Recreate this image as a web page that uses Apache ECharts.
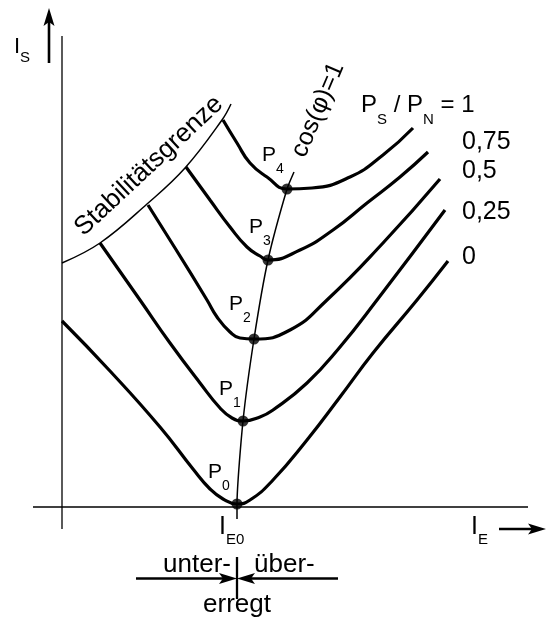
<!DOCTYPE html>
<html>
<head>
<meta charset="utf-8">
<script src="https://cdn.jsdelivr.net/npm/echarts@6/dist/echarts.min.js"></script>
<style>
  html, body { margin: 0; padding: 0; background: #fff; }
  #chart { width: 547px; height: 625px; }
</style>
</head>
<body>
<div id="chart"></div>
<script>
// V-curves of a synchronous machine: stator current I_S over field current I_E,
// one curve per active-power ratio P_S / P_N (arbitrary units, same scale on both axes).

const loadRatios = ['0', '0,25', '0,5', '0,75', '1'];

const curveP0   = [[0, 18.6], [4.8, 13.6], [9.8, 8.0], [13.1, 3.8], [14.8, 1.8], [16.1, 0.8], [17.5, 0.3],
                   [18.8, 0.7], [21.1, 2.7], [24.5, 6.7], [27.8, 11.0], [31.1, 15.4], [35.5, 20.7], [38.6, 24.6]];
const curveP25  = [[3.8, 26.4], [7.8, 20.7], [10.8, 16.4], [13.8, 12.4], [15.8, 9.9], [17.0, 8.9], [18.1, 8.6],
                   [19.8, 9.0], [21.1, 9.7], [24.5, 12.4], [27.8, 16.0], [31.5, 20.7], [38.3, 29.7]];
const curveP50  = [[8.6, 30.2], [11.3, 25.9], [14.5, 20.7], [15.5, 19.0], [16.8, 17.5], [17.8, 16.9], [19.2, 16.8],
                   [22.8, 17.7], [26.5, 20.7], [32.1, 26.4], [37.8, 32.8]];
const curveP75  = [[12.4, 34.0], [14.8, 30.7], [16.8, 28.0], [18.5, 26.0], [19.8, 25.1], [20.6, 24.7],
                   [23.8, 25.7], [27.1, 27.7], [30.5, 30.4], [33.8, 33.0], [36.6, 35.5]];
const curveP100 = [[16.1, 38.7], [17.5, 36.4], [18.8, 34.4], [20.5, 33.0], [22.5, 31.8], [25.0, 31.9],
                   [28.8, 33.0], [32.1, 35.2], [35.1, 37.9]];

// stability limit (left end of every curve)
const stabilityLimit = [[0, 24.4], [3.8, 26.4], [8.5, 30.3], [12.3, 33.9], [16.0, 38.7], [16.9, 40.3]];

// minima of the curves, all at cos(phi) = 1
const pointNames = ['0', '1', '2', '3', '4'];
const operatingPoints = [[17.5, 0.3], [18.1, 8.6], [19.2, 16.8], [20.6, 24.7], [22.5, 31.8]];
// cos(phi) = 1 line through the minima, with its tick below I_E0
const unityPowerFactor = [[17.5, -1.2], [17.5, 0.3], [18.1, 8.6], [19.2, 16.8], [20.6, 24.7], [22.5, 31.8], [23.2, 33.5]];

const vCurves = [curveP0, curveP25, curveP50, curveP75, curveP100];

const FONT = '"Liberation Sans", Arial, Helvetica, sans-serif';
const mainStyle = size => ({ fontSize: size, fontFamily: FONT, lineHeight: size + 4, verticalAlign: 'middle' });
const subStyle = (size, drop) => ({ fontSize: size, fontFamily: FONT, lineHeight: size, padding: [drop * 2, 0, 0, 0], verticalAlign: 'middle' });

// text placed in axis units
const pointLabelAt = [[14.6, 3.45], [15.7, 11.75], [16.7, 20.25], [18.7, 27.95], [20.0, 35.15]];
const notes = [
  { at: [-4.8, 46.0], text: '{m|I}{s|S}', rich: { m: mainStyle(22), s: subStyle(15, 11) } },
  { at: [40.0, 36.45], text: loadRatios[3] },
  { at: [40.0, 33.6],  text: loadRatios[2] },
  { at: [40.0, 29.45], text: loadRatios[1] },
  { at: [40.0, 25.0],  text: loadRatios[0] },
  { at: [29.9, 40.2], text: '{m|P}{s|S}{m| / P}{s|N}{m| = ' + loadRatios[4] + '}',
    rich: { m: mainStyle(24), s: subStyle(15, 15) } },
  { at: [25.6, 39.7], text: 'cos(φ)=1', rotate: 67, align: 'center' },
  { at: [8.7, 34.1], text: 'Stabilitätsgrenze', size: 26, rotate: 43, align: 'center' },
  ...pointNames.map((n, i) => ({
    at: pointLabelAt[i], text: '{m|P}{s|' + n + '}', rich: { m: mainStyle(21), s: subStyle(14, 13.5) }
  })),
  { at: [15.7, -2.0], text: '{m|I}{s|E0}', rich: { m: mainStyle(25), s: subStyle(15, 13) } },
  { at: [40.9, -2.0], text: '{m|I}{s|E}',  rich: { m: mainStyle(25), s: subStyle(15, 13) } },
  { at: [16.9, -5.8], text: 'unter-', size: 26, align: 'right' },
  { at: [19.2, -5.8], text: 'über-', size: 26 },
  { at: [17.5, -9.8], text: 'erregt', size: 26, align: 'center' }
];

// axes, direction arrows and the under/over-excited marker
const decorations = [
  { kind: 'line',  from: [0, -2.2],     to: [0, 47.1],     width: 1.3 },
  { kind: 'line',  from: [-2.9, 0],     to: [46.6, 0],     width: 1.3 },
  { kind: 'arrow', from: [-1.3, 44.4],  to: [-1.3, 49.9],  width: 2.6 },
  { kind: 'arrow', from: [43.7, -2.2],  to: [48.4, -2.2],  width: 2.6 },
  { kind: 'arrow', from: [7.4, -7.15],  to: [17.5, -7.15], width: 2.3 },
  { kind: 'arrow', from: [27.6, -7.15], to: [17.5, -7.15], width: 2.3 },
  { kind: 'line',  from: [17.5, -5.0],  to: [17.5, -9.2],  width: 2.3 }
];

function renderDecoration(params, api) {
  const d = decorations[params.dataIndex];
  const a = api.coord(d.from), b = api.coord(d.to);
  const stroke = { stroke: '#000', lineWidth: d.width, fill: null };
  if (d.kind === 'line') {
    return { type: 'line', shape: { x1: a[0], y1: a[1], x2: b[0], y2: b[1] }, style: stroke };
  }
  const dx = b[0] - a[0], dy = b[1] - a[1];
  const len = Math.hypot(dx, dy);
  const ux = dx / len, uy = dy / len, nx = -uy, ny = ux;
  const L = 18, W = 5.5;
  const bx = b[0] - ux * L, by = b[1] - uy * L;
  return {
    type: 'group',
    children: [
      { type: 'line', shape: { x1: a[0], y1: a[1], x2: b[0] - ux * L * 0.6, y2: b[1] - uy * L * 0.6 }, style: stroke },
      { type: 'polygon',
        shape: { points: [[b[0], b[1]], [bx + nx * W, by + ny * W],
                          [b[0] - ux * L * 0.78, b[1] - uy * L * 0.78], [bx - nx * W, by - ny * W]] },
        style: { fill: '#000' } }
    ]
  };
}

function renderNote(params, api) {
  const n = notes[params.dataIndex];
  const p = api.coord(n.at);
  return {
    type: 'text',
    x: p[0], y: p[1],
    rotation: (n.rotate || 0) * Math.PI / 180,
    style: {
      text: n.text,
      rich: n.rich,
      font: (n.size || 25) + 'px ' + FONT,
      fill: '#000',
      align: n.align || 'left',
      verticalAlign: 'middle'
    }
  };
}

const chart = echarts.init(document.getElementById('chart'), null, { renderer: 'canvas' });

chart.setOption({
  animation: false,
  backgroundColor: '#fff',
  grid: { left: 0, right: 0, top: 0, bottom: 0 },
  xAxis: { type: 'value', min: -6.2, max: 48.5, show: false },
  yAxis: { type: 'value', min: -11.8, max: 50.7, show: false },
  series: [
    {
      type: 'custom', name: 'axes', silent: true, z: 1,
      data: decorations.map((_, i) => [i, 0]),
      renderItem: renderDecoration
    },
    {
      type: 'line', name: 'Stabilitätsgrenze', data: stabilityLimit,
      smooth: 0.4, showSymbol: false, symbol: 'none', silent: true, z: 2,
      lineStyle: { color: '#000', width: 1.5 }
    },
    {
      type: 'line', name: 'cos(φ)=1', data: unityPowerFactor,
      smooth: 0.2, showSymbol: false, symbol: 'none', silent: true, z: 2,
      lineStyle: { color: '#000', width: 1.5 }
    },
    ...vCurves.map((d, i) => ({
      type: 'line', name: 'P_S/P_N = ' + loadRatios[i], data: d,
      smooth: 0.5, showSymbol: false, symbol: 'none', silent: true, z: 3,
      lineStyle: { color: '#000', width: 3.2 }
    })),
    {
      type: 'scatter', name: 'P', data: operatingPoints, symbol: 'circle', symbolSize: 11,
      silent: true, z: 4, itemStyle: { color: '#000' }
    },
    {
      type: 'custom', name: 'notes', silent: true, z: 5,
      data: notes.map((_, i) => [i, 0]),
      renderItem: renderNote
    }
  ]
});
</script>
</body>
</html>
